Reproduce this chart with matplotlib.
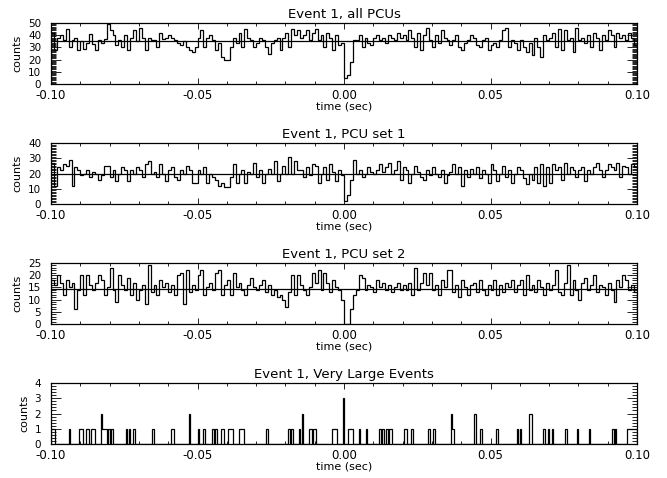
import numpy as np
import matplotlib
matplotlib.use("Agg")
import matplotlib.pyplot as plt
from matplotlib.ticker import MultipleLocator, FixedLocator, FixedFormatter

# histogram bins of 1 ms from -0.1 s to 0.1 s
t_start = -0.10
bin_width = 0.001

all_pcus = [
    42, 28, 38, 40, 36, 45, 30, 36, 38, 28, 35, 29, 34, 41, 33, 28, 36, 34, 37, 49,
    44, 40, 32, 36, 30, 40, 28, 38, 44, 35, 46, 38, 28, 38, 36, 36, 30, 42, 37, 38,
    40, 38, 36, 34, 32, 35, 30, 28, 26, 30, 38, 44, 30, 38, 40, 36, 28, 34, 22, 20,
    20, 30, 38, 34, 42, 30, 45, 38, 36, 30, 34, 38, 36, 30, 25, 34, 36, 38, 28, 38,
    42, 30, 45, 40, 44, 38, 40, 44, 36, 42, 45, 36, 40, 30, 42, 38, 28, 40, 32, 34,
    5, 7, 18, 36, 36, 40, 30, 38, 34, 32, 38, 40, 36, 38, 34, 40, 38, 36, 42, 38,
    40, 36, 44, 38, 30, 42, 28, 40, 46, 36, 30, 40, 34, 44, 38, 36, 32, 36, 40, 30,
    28, 34, 36, 40, 38, 32, 30, 36, 38, 28, 32, 34, 30, 36, 44, 46, 30, 36, 34, 28,
    36, 30, 26, 34, 24, 38, 30, 22, 40, 36, 38, 42, 30, 45, 28, 44, 36, 38, 26, 46,
    36, 38, 34, 40, 30, 42, 38, 28, 40, 36, 44, 40, 30, 42, 38, 40, 36, 42, 38, 32,
]

pcu_set1 = [
    27, 12, 24, 22, 26, 25, 29, 12, 24, 22, 19, 20, 22, 18, 21, 20, 16, 19, 25, 25,
    18, 22, 15, 20, 24, 22, 15, 22, 20, 24, 22, 18, 26, 28, 20, 21, 18, 26, 20, 15,
    22, 24, 18, 16, 22, 20, 25, 22, 14, 14, 22, 20, 24, 14, 20, 18, 16, 12, 14, 11,
    11, 18, 26, 14, 20, 22, 14, 21, 20, 27, 18, 22, 14, 20, 23, 20, 28, 15, 20, 25,
    20, 31, 20, 28, 22, 22, 18, 24, 19, 26, 25, 14, 20, 24, 16, 26, 21, 15, 22, 19,
    2, 6, 16, 29, 20, 22, 18, 20, 24, 21, 20, 22, 26, 21, 24, 27, 20, 22, 28, 16,
    24, 22, 14, 20, 25, 21, 18, 16, 22, 19, 24, 20, 18, 22, 14, 19, 21, 26, 20, 24,
    12, 22, 18, 23, 20, 24, 17, 22, 20, 14, 26, 22, 15, 20, 25, 18, 22, 14, 20, 24,
    22, 17, 13, 20, 16, 24, 14, 26, 12, 24, 14, 26, 22, 24, 16, 27, 20, 24, 22, 18,
    22, 24, 15, 22, 20, 24, 27, 22, 18, 22, 26, 24, 22, 27, 18, 25, 24, 20, 26, 24,
]

pcu_set2 = [
    18, 16, 20, 17, 12, 18, 15, 17, 6, 14, 20, 12, 20, 16, 14, 17, 20, 18, 12, 15,
    23, 14, 9, 20, 16, 14, 19, 12, 17, 10, 14, 16, 8, 24, 13, 16, 12, 18, 15, 17,
    13, 16, 12, 20, 21, 8, 22, 13, 16, 14, 20, 22, 12, 15, 17, 14, 21, 22, 12, 16,
    18, 12, 21, 15, 17, 14, 12, 16, 19, 15, 14, 16, 18, 13, 16, 12, 14, 11, 12, 10,
    7, 13, 20, 12, 20, 16, 14, 12, 15, 21, 17, 22, 14, 21, 17, 13, 18, 15, 14, 10,
    0, 0, 6, 12, 14, 20, 19, 14, 16, 15, 13, 18, 15, 17, 14, 16, 13, 15, 17, 14,
    16, 14, 17, 12, 23, 14, 17, 21, 16, 21, 14, 16, 12, 18, 15, 22, 22, 13, 16, 11,
    18, 15, 12, 16, 17, 13, 18, 14, 12, 16, 14, 18, 12, 16, 13, 17, 15, 18, 13, 16,
    18, 12, 20, 14, 16, 13, 18, 15, 12, 17, 14, 16, 22, 13, 12, 17, 24, 12, 18, 14,
    10, 17, 19, 14, 16, 20, 13, 16, 15, 12, 17, 14, 9, 18, 15, 20, 18, 14, 16, 13,
]

mean_levels = [35, 20, 14.5]

# very large events: 0.5 ms bins, only the non-empty bins listed
large_bin_width = 0.0005
large_times = [
    -0.1000, -0.0995, -0.0990, -0.0940, -0.0905, -0.0900, -0.0895,
    -0.0880, -0.0875, -0.0865, -0.0860, -0.0855, -0.0830,
    -0.0825, -0.0820, -0.0815, -0.0805, -0.0795, -0.0745, -0.0735, -0.0720,
    -0.0655, -0.0590, -0.0585, -0.0530, -0.0500, -0.0480, -0.0450, -0.0440,
    -0.0420, -0.0415, -0.0395, -0.0390, -0.0385, -0.0360, -0.0355, -0.0350, -0.0345,
    -0.0265, -0.0190, -0.0180, -0.0155, -0.0145, -0.0120, -0.0115, -0.0105, -0.0100,
    -0.0040, -0.0035, -0.0030, -0.0005, 0.0015, 0.0020, 0.0025, 0.0050, 0.0075,
    0.0120, 0.0130, 0.0145, 0.0155, 0.0160, 0.0205, 0.0210, 0.0230,
    0.0285, 0.0290, 0.0305, 0.0365, 0.0370, 0.0445, 0.0465, 0.0520,
    0.0590, 0.0600, 0.0630, 0.0635, 0.0680, 0.0695, 0.0710, 0.0755, 0.0795, 0.0835,
    0.0915, 0.0925, 0.0965, 0.0970, 0.0975, 0.0980, 0.0985, 0.0990, 0.0995,
]
large_counts = [
    1, 1, 1, 1, 1, 1, 1,
    1, 1, 1, 1, 1, 2,
    1, 1, 1, 1, 1, 1, 1, 1,
    1, 1, 1, 2, 1, 1, 1, 1,
    1, 1, 1, 1, 1, 1, 1, 1, 1,
    1, 1, 1, 1, 2, 1, 1, 1, 1,
    1, 1, 1, 3, 1, 1, 1, 1, 1,
    1, 1, 1, 1, 1, 1, 1, 1,
    1, 1, 1, 2, 1, 2, 1, 1,
    1, 1, 2, 2, 1, 1, 1, 1, 1, 1,
    1, 1, 1, 1, 1, 1, 1, 1, 1,
]

titles = ["Event 1, all PCUs", "Event 1, PCU set 1", "Event 1, PCU set 2",
          "Event 1, Very Large Events"]
y_max = [50, 40, 25, 4]
y_major = [10, 10, 5, 1]
y_minor = [1, 1, 1, 0.2]
x_ticks = [-0.10, -0.05, 0.00, 0.05, 0.10]
x_tick_labels = ["-0.10", "-0.05", "0.00", "0.05", "0.10"]

# build the histograms
edges = t_start + bin_width * np.arange(len(all_pcus) + 1)
n_large = int(round(0.2 / large_bin_width))
large_edges = t_start + large_bin_width * np.arange(n_large + 1)
large_hist = np.zeros(n_large)
idx = np.round((np.array(large_times) - t_start) / large_bin_width).astype(int)
large_hist[idx] = large_counts

series = [(edges, all_pcus), (edges, pcu_set1), (edges, pcu_set2), (large_edges, large_hist)]

W, H = 667, 478
fig = plt.figure(figsize=(W / 100, H / 100), dpi=100)

left_px, right_px = 51, 637
for k in range(4):
    top_px = 23 + 120 * k
    h_px = 61
    ax = fig.add_axes([left_px / W, 1 - (top_px + h_px) / H, (right_px - left_px) / W, h_px / H])
    e, v = series[k]
    ax.stairs(v, e, color="black", linewidth=0.9)
    if k < 3:
        ax.axhline(mean_levels[k], color="black", linewidth=0.9)

    ax.set_xlim(-0.1, 0.1)
    ax.set_ylim(0, y_max[k])
    ax.xaxis.set_major_locator(FixedLocator(x_ticks))
    ax.xaxis.set_major_formatter(FixedFormatter(x_tick_labels))
    ax.xaxis.set_minor_locator(MultipleLocator(0.01))
    ax.yaxis.set_major_locator(MultipleLocator(y_major[k]))
    ax.yaxis.set_minor_locator(MultipleLocator(y_minor[k]))

    ax.tick_params(which="both", direction="in", top=True, right=True, width=0.6)
    ax.tick_params(axis="x", which="major", length=4, pad=3.5, labelsize=8.5)
    ax.tick_params(axis="x", which="minor", length=2.5)
    ax.tick_params(axis="y", which="major", length=7, pad=7, labelsize=7.5)
    ax.tick_params(axis="y", which="minor", length=3.5)
    for s in ax.spines.values():
        s.set_linewidth(0.9)

    ax.set_title(titles[k], fontsize=9.5, pad=3.5)
    ax.set_xlabel("time (sec)", fontsize=8, labelpad=-0.5)
    ax.set_ylabel("counts", fontsize=8, labelpad=4)

fig.savefig("out.png", dpi=100)
